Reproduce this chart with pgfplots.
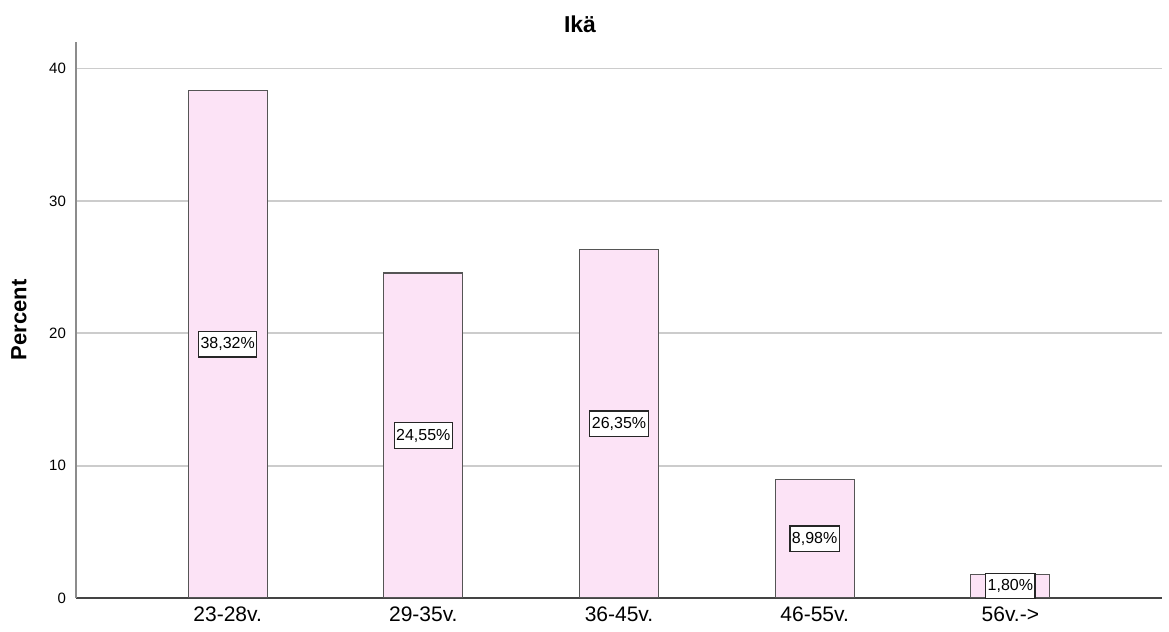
\documentclass[border=0pt]{standalone}
\usepackage{fontspec}
\setmainfont{Liberation Sans}
\usepackage{pgfplots}
\pgfplotsset{compat=1.18}
\definecolor{barfill}{HTML}{FCE3F6}
\definecolor{baredge}{HTML}{555555}
\definecolor{gridgray}{HTML}{CCCCCC}
\definecolor{yaxisgray}{HTML}{8C8C8C}
\definecolor{xaxisdark}{HTML}{444444}
\begin{document}
\begin{tikzpicture}[x=1pt,y=1pt]
\path[use as bounding box] (0,0) rectangle (584.5,316);
\begin{axis}[
	at={(38pt,17pt)}, anchor=south west,
	scale only axis, width=543pt, height=278pt,
	ybar, bar width=39.5pt,
	ymin=0, ymax=42, xmin=-0.775, xmax=4.775,
	axis lines=left, axis line style={-},
	x axis line style={draw=xaxisdark, line width=0.8pt},
	y axis line style={draw=yaxisgray, line width=0.8pt},
	ytick={0,10,20,30,40},
	xtick=data,
	xticklabels={23-28v.,29-35v.,36-45v.,46-55v.,56v.->},
	major tick length=0pt,
	ymajorgrids, grid style={draw=gridgray, line width=0.9pt},
	/pgf/number format/assume math mode=true,
	yticklabel style={font=\fontsize{7.5}{9}\selectfont, xshift=-1.5pt},
	xticklabel style={font=\fontsize{10.5}{12}\selectfont, yshift=-1pt},
	ylabel={\bfseries Percent},
	ylabel style={at={(axis description cs:-0.0525,0.5)}, anchor=center, font=\fontsize{11}{13}\selectfont},
	nodes near coords={\pgfmathprintnumber[fixed,fixed zerofill,precision=2,use comma]{\pgfplotspointmeta}\%},
	visualization depends on={y \as \rawy},
	every node near coord/.append style={anchor=center, shift={(axis direction cs:0,-\rawy/2)},
		draw=black!85, fill=white, line width=0.6pt, inner xsep=1pt, inner ysep=3pt,
		font=\fontsize{8}{9}\selectfont, text=black},
	]
	% Ikä, percent of respondents
	\addplot[fill=barfill, draw=baredge, line width=0.6pt] coordinates {
		(0,38.32) (1,24.55) (2,26.35) (3,8.98) (4,1.80)
	};
\end{axis}
\node[font=\bfseries\fontsize{11.5}{13}\selectfont] at (290,304) {Ikä};
\end{tikzpicture}
\end{document}
